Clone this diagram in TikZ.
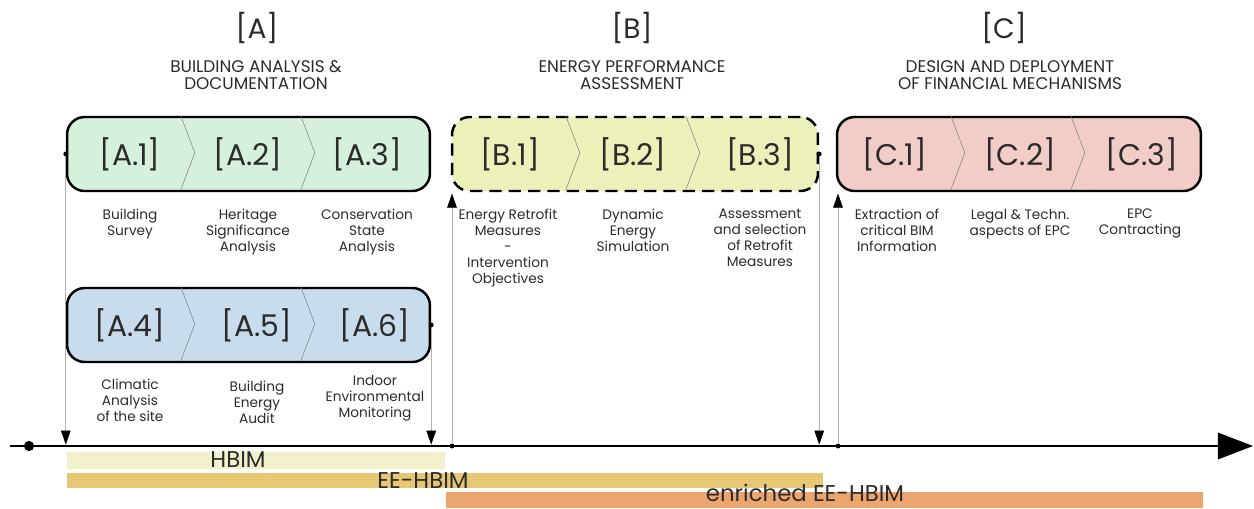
\documentclass[tikz,border=0pt]{standalone}
\usepackage{fontspec}
\setmainfont{Poppins}
\usepackage{tikz}
\usetikzlibrary{arrows.meta, calc}
\usepackage{xcolor}
\definecolor{analysiscolor}{HTML}{D5F0DD}
\definecolor{auditcolor}{HTML}{C9DCEB}
\definecolor{energycolor}{HTML}{EEF0BA}
\definecolor{financecolor}{HTML}{F2CDC7}
\definecolor{hbimcolor}{HTML}{F3F1CA}
\definecolor{eehbimcolor}{HTML}{E6C874}
\definecolor{enrichedcolor}{HTML}{EDA56E}
\definecolor{inkgray}{HTML}{2B2B2B}

\begin{document}
\begin{tikzpicture}[
    x=0.02cm, y=-0.02cm,
    phase/.style={rectangle, rounded corners=10pt, draw=black, line width=1.4pt,
                  minimum width=7.26cm, minimum height=1.48cm, inner sep=0pt},
    stepname/.style={font=\fontsize{17}{20}\selectfont, text=inkgray},
    stepdesc/.style={font=\fontsize{7.8}{9.1}\selectfont, text=inkgray, align=center, anchor=north},
    phasetitle/.style={font=\fontsize{16}{19}\selectfont, text=inkgray},
    phasesub/.style={font=\fontsize{9.6}{9.4}\selectfont, text=inkgray, align=center},
    chevron/.style={draw=gray, line width=0.3pt},
    drop/.style={draw=gray!60, line width=0.4pt, shorten >=0.8pt,
                 -{Triangle[black, width=5.5pt, length=8pt]}},
    dot/.style={circle, fill=black, inner sep=0pt, minimum size=2.8pt},
    modelbar/.style={rectangle, inner sep=0pt, minimum height=0.32cm},
    bartext/.style={font=\fontsize{13}{15}\selectfont, text=inkgray, inner sep=0pt},
]
\useasboundingbox (0,0) rectangle (1254,508);

% Phase titles
\node[phasetitle] (titleA) at (257,28) {[A]};
\node[phasetitle] (titleB) at (632,28) {[B]};
\node[phasetitle] (titleC) at (1004,28) {[C]};
\node[phasesub] (subA) at (256,75) {BUILDING ANALYSIS \&\\DOCUMENTATION};
\node[phasesub] (subB) at (632,75) {ENERGY PERFORMANCE\\ASSESSMENT};
\node[phasesub] (subC) at (1010,75) {DESIGN AND DEPLOYMENT\\OF FINANCIAL MECHANISMS};

% Phase boxes
\node[phase, fill=analysiscolor] (boxA) at (248.5,154) {};
\node[phase, fill=auditcolor] (boxD) at (248.5,325) {};
\node[phase, fill=energycolor, dash pattern=on 7pt off 4pt, minimum width=7.32cm] (boxB) at (635,154) {};
\node[phase, fill=financecolor, minimum width=7.28cm] (boxC) at (1019,154) {};

% Chevrons between steps
\foreach \b in {boxA, boxD, boxB, boxC}
  \foreach \dx in {115,235}
    \draw[chevron] (\b.north west) ++(\dx,0) -- ++(14,37) -- ++(-14,37);

% Steps
\node[stepname] (a1) at (130,154) {[A.1]};
\node[stepname] (a2) at (248,154) {[A.2]};
\node[stepname] (a3) at (367,154) {[A.3]};
\node[stepname] (a4) at (130,325) {[A.4]};
\node[stepname] (a5) at (257,325) {[A.5]};
\node[stepname] (a6) at (375,325) {[A.6]};
\node[stepname] (b1) at (510,154) {[B.1]};
\node[stepname] (b2) at (633,154) {[B.2]};
\node[stepname] (b3) at (760,154) {[B.3]};
\node[stepname] (c1) at (895,154) {[C.1]};
\node[stepname] (c2) at (1020,154) {[C.2]};
\node[stepname] (c3) at (1142,154) {[C.3]};

% Step descriptions
\node[stepdesc] at (130,203) {Building\\Survey};
\node[stepdesc] at (248,203) {Heritage\\Significance\\Analysis};
\node[stepdesc] at (367,203) {Conservation\\State\\Analysis};
\node[stepdesc] at (130,373) {Climatic\\Analysis\\of the site};
\node[stepdesc] at (257,375) {Building\\Energy\\Audit};
\node[stepdesc] at (375,369) {Indoor\\Environmental\\Monitoring};
\node[stepdesc] at (508,203) {Energy Retrofit\\Measures\\-\\Intervention\\Objectives};
\node[stepdesc] at (633,203) {Dynamic\\Energy\\Simulation};
\node[stepdesc] at (760,203) {Assessment\\and selection\\of Retrofit\\Measures};
\node[stepdesc] at (897,203) {Extraction of\\critical BIM\\Information};
\node[stepdesc] at (1020,203) {Legal \& Techn.\\aspects of EPC};
\node[stepdesc] at (1140,203) {EPC\\Contracting};

% Timeline
\coordinate (tlstart) at (10,446);
\coordinate (tlend) at (1253,446);
\draw[line width=1.4pt, -{Triangle[width=15pt, length=20pt]}] (tlstart) -- (tlend);
\node[dot, minimum size=5.8pt] (origin) at (29,446) {};
\node[dot] (startB) at (452,446) {};
\node[dot] (startC) at (838,446) {};

% Links to timeline
\draw[drop] (boxA.west) -- (boxA.west |- tlstart);
\draw[drop] (boxD.east) -- (boxD.east |- tlstart);
\draw[drop] (boxB.east) -- (boxB.east |- tlstart);
\draw[drop] (startB) -- (startB |- boxB.south);
\draw[drop] (startC) -- (startC |- boxC.south);
\node[dot] at (boxA.west) {};
\node[dot] at (boxD.east) {};
\node[dot] at (boxB.east) {};

% Model bars
\node[modelbar, fill=hbimcolor, minimum width=7.56cm, minimum height=0.34cm] (hbim) at (256,460.5) {};
\node[modelbar, fill=eehbimcolor, minimum width=15.12cm, minimum height=0.3cm] (eehbim) at (445,480.5) {};
\node[modelbar, fill=enrichedcolor, minimum width=15.14cm] (enriched) at (824.5,499.5) {};
\node[bartext] at (238,460) {HBIM};
\node[bartext] at (423,481) {EE-HBIM};
\node[bartext] at (805,493) {enriched EE-HBIM};

\end{tikzpicture}
\end{document}
